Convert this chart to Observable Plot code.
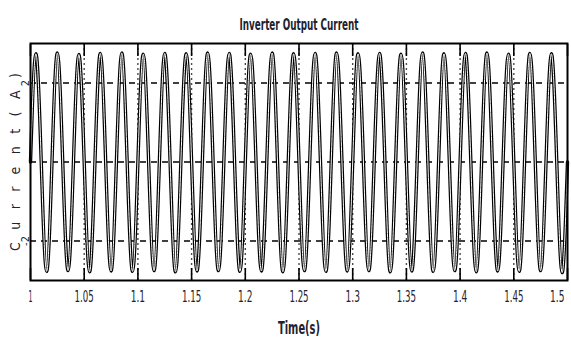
<!DOCTYPE html>
<html>
<head>
<meta charset="utf-8">
<script src="https://cdn.jsdelivr.net/npm/d3@7"></script>
<script src="https://cdn.jsdelivr.net/npm/@observablehq/plot@0.6"></script>
<style>
  html, body { margin: 0; padding: 0; background: #fff; }
  #chart svg { display: block; }
</style>
</head>
<body>
<div id="chart"></div>
<script>
// --- data ---
const titleText = "Inverter Output Current";
const xLabel = "Time(s)";
const yLabel = "Current(A)";
const xTicks = [1, 1.05, 1.1, 1.15, 1.2, 1.25, 1.3, 1.35, 1.4, 1.45, 1.5];
const xTickLabels = ["1", "1.05", "1.1", "1.15", "1.2", "1.25", "1.3", "1.35", "1.4", "1.45", "1.5"];
const yTicks = [-2, 2];
const yTickLabels = ["-2", "2"];
const yGrid = [-2, 0, 2];
// start time of each 50 Hz cycle (period 0.02 s)
const cycleStart = [1.00, 1.02, 1.04, 1.06, 1.08, 1.10, 1.12, 1.14, 1.16, 1.18,
                    1.20, 1.22, 1.24, 1.26, 1.28, 1.30, 1.32, 1.34, 1.36, 1.38,
                    1.40, 1.42, 1.44, 1.46, 1.48];
// positive peak of each cycle (A)
const peakA = [2.74, 2.76, 2.72, 2.75, 2.76, 2.73, 2.75, 2.74, 2.76, 2.75,
               2.73, 2.76, 2.74, 2.75, 2.76, 2.74, 2.75, 2.73, 2.76, 2.74,
               2.75, 2.76, 2.73, 2.75, 2.74];
// negative peak of each cycle (A)
const troughA = [-2.77, -2.75, -2.78, -2.76, -2.77, -2.75, -2.78, -2.76, -2.75, -2.77,
                 -2.76, -2.78, -2.75, -2.77, -2.76, -2.75, -2.78, -2.76, -2.77, -2.75,
                 -2.78, -2.76, -2.77, -2.75, -2.80];
const period = 0.02;

// table of wave points: zero crossings and peaks of each cycle
const wave = [];
cycleStart.forEach((t0, k) => {
  wave.push({t: t0, i: 0});
  wave.push({t: t0 + period / 4, i: peakA[k]});
  wave.push({t: t0 + period / 2, i: 0});
  wave.push({t: t0 + 3 * period / 4, i: troughA[k]});
});
wave.push({t: 1.5, i: 0});

const font = "'Liberation Sans Narrow', 'DejaVu Sans Condensed', 'Liberation Sans', sans-serif";
const txtColor = "#22222e";
const last = xTicks.length - 1;

const chart = Plot.plot({
  width: 571,
  height: 354,
  marginLeft: 30,
  marginRight: 4,
  marginTop: 43,
  marginBottom: 74,
  style: {background: "#fff", fontFamily: font},
  x: {domain: [1, 1.5], axis: null},
  y: {domain: [-3, 3], axis: null},
  marks: [
    Plot.ruleY(yGrid, {stroke: "#000", strokeWidth: 1.6, strokeDasharray: "6,5"}),
    Plot.ruleX(xTicks.slice(1, -1), {stroke: "#000", strokeWidth: 1.4, strokeDasharray: "2,3", strokeOpacity: 0.7}),
    Plot.line(wave, {x: "t", y: "i", curve: "natural", stroke: "#000", strokeWidth: 3.4}),
    Plot.line(wave, {x: "t", y: "i", curve: "natural", stroke: "#fff", strokeWidth: 1.0}),
    Plot.frame({stroke: "#000", strokeWidth: 2}),
    Plot.axisX({anchor: "bottom", ticks: xTicks, tickSize: -12, tickFormat: () => "", strokeWidth: 1.6, label: null}),
    Plot.axisX({anchor: "top", ticks: xTicks, tickSize: -12, tickFormat: () => "", strokeWidth: 1.6, label: null}),
    Plot.text(xTicks.slice(0, last), {x: d => d, text: (d, i) => xTickLabels[i], frameAnchor: "bottom", dy: 21,
      fontSize: 16, fill: txtColor, className: "xtl"}),
    Plot.text(xTicks.slice(last), {x: d => d, text: () => xTickLabels[last], frameAnchor: "bottom", dy: 21, dx: -3,
      textAnchor: "end", fontSize: 16, fill: txtColor, className: "xtl"}),
    Plot.text(yTicks, {y: d => d, text: (d, i) => yTickLabels[i], frameAnchor: "left", dx: -2,
      rotate: -90, textAnchor: "middle", lineAnchor: "bottom", fontSize: 11, fill: txtColor}),
    Plot.text([yLabel], {frameAnchor: "left", dx: -15, rotate: -90, textAnchor: "middle",
      fontSize: 14, fill: txtColor, className: "ylab"}),
    Plot.text([titleText], {frameAnchor: "top", dy: -25, fontSize: 16, fontWeight: 600, fill: txtColor, className: "ttl"}),
    Plot.text([xLabel], {frameAnchor: "bottom", dy: 53, fontSize: 18, fontWeight: 600, fill: txtColor, className: "xlab"})
  ]
});
document.getElementById("chart").appendChild(chart);

// condensed look of the original lettering
d3.select(chart).selectAll(".ttl text").attr("textLength", 119).attr("lengthAdjust", "spacingAndGlyphs");
d3.select(chart).selectAll(".xlab text").attr("textLength", 42).attr("lengthAdjust", "spacingAndGlyphs");
d3.select(chart).selectAll(".ylab text").attr("textLength", 178).attr("lengthAdjust", "spacing");
d3.select(chart).selectAll(".xtl text").each(function () {
  const n = this.textContent.length;
  d3.select(this).attr("textLength", n === 1 ? 4 : n * 4.8).attr("lengthAdjust", "spacingAndGlyphs");
});
</script>
</body>
</html>
